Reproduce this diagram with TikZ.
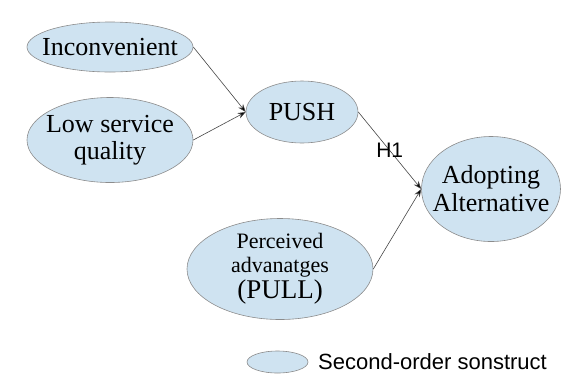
\documentclass[tikz,border=0pt]{standalone}
\usepackage{fontspec}
\setmainfont{Liberation Serif}
\newfontfamily\arialfont{Liberation Sans}
\usetikzlibrary{shapes.geometric,arrows.meta}
\definecolor{ellfill}{RGB}{207,227,241}
\definecolor{elldraw}{RGB}{140,140,140}
\definecolor{arrline}{RGB}{70,70,70}
\begin{document}
\begin{tikzpicture}[x=1pt,y=-1pt,
  construct/.style={ellipse, fill=ellfill, draw=elldraw, line width=0.6pt, inner sep=0pt},
  ctext/.style={align=center, inner sep=0pt},
  link/.style={draw=arrline, line width=0.6pt, -{Stealth[length=8pt,width=6pt,fill=black]}}]
\useasboundingbox (0,0) rectangle (564,376);
\node[construct, minimum width=166pt, minimum height=50pt,
  label={[ctext, font=\fontsize{26}{27}\selectfont]center:Inconvenient}] (inc) at (110,47) {};
\node[construct, minimum width=166pt, minimum height=85pt,
  label={[ctext, font=\fontsize{26}{27}\selectfont]center:{Low service\\quality}}] (low) at (110,140) {};
\node[construct, minimum width=112pt, minimum height=62pt,
  label={[ctext, font=\fontsize{26}{27}\selectfont]center:PUSH}] (push) at (302,112) {};
\node[construct, minimum width=139pt, minimum height=105pt,
  label={[ctext, font=\fontsize{26}{28}\selectfont]center:{Adopting\\Alternative}}] (adopt) at (491,189) {};
\node[construct, minimum width=186pt, minimum height=101pt,
  label={[ctext, font=\fontsize{22}{24}\selectfont]center:{Perceived\\advanatges\\[2pt]{\fontsize{27}{26}\selectfont (PULL)}}}] (pull) at (280,269) {};
\node[construct, minimum width=61pt, minimum height=22pt] (leg) at (277.5,362) {};
\node[anchor=west, inner sep=0pt, font=\arialfont\fontsize{22}{24}\selectfont] (legtext) at (318,362) {Second-order sonstruct};
\draw[link] (inc.east) -- (push.west);
\draw[link] (low.east) -- (push.west);
\draw[link] (push.east) -- node[pos=0.5, inner sep=0pt, font=\arialfont\fontsize{21}{22}\selectfont] (h1) {H1} (adopt.west);
\draw[link] (pull.east) -- (adopt.west);
\end{tikzpicture}
\end{document}
